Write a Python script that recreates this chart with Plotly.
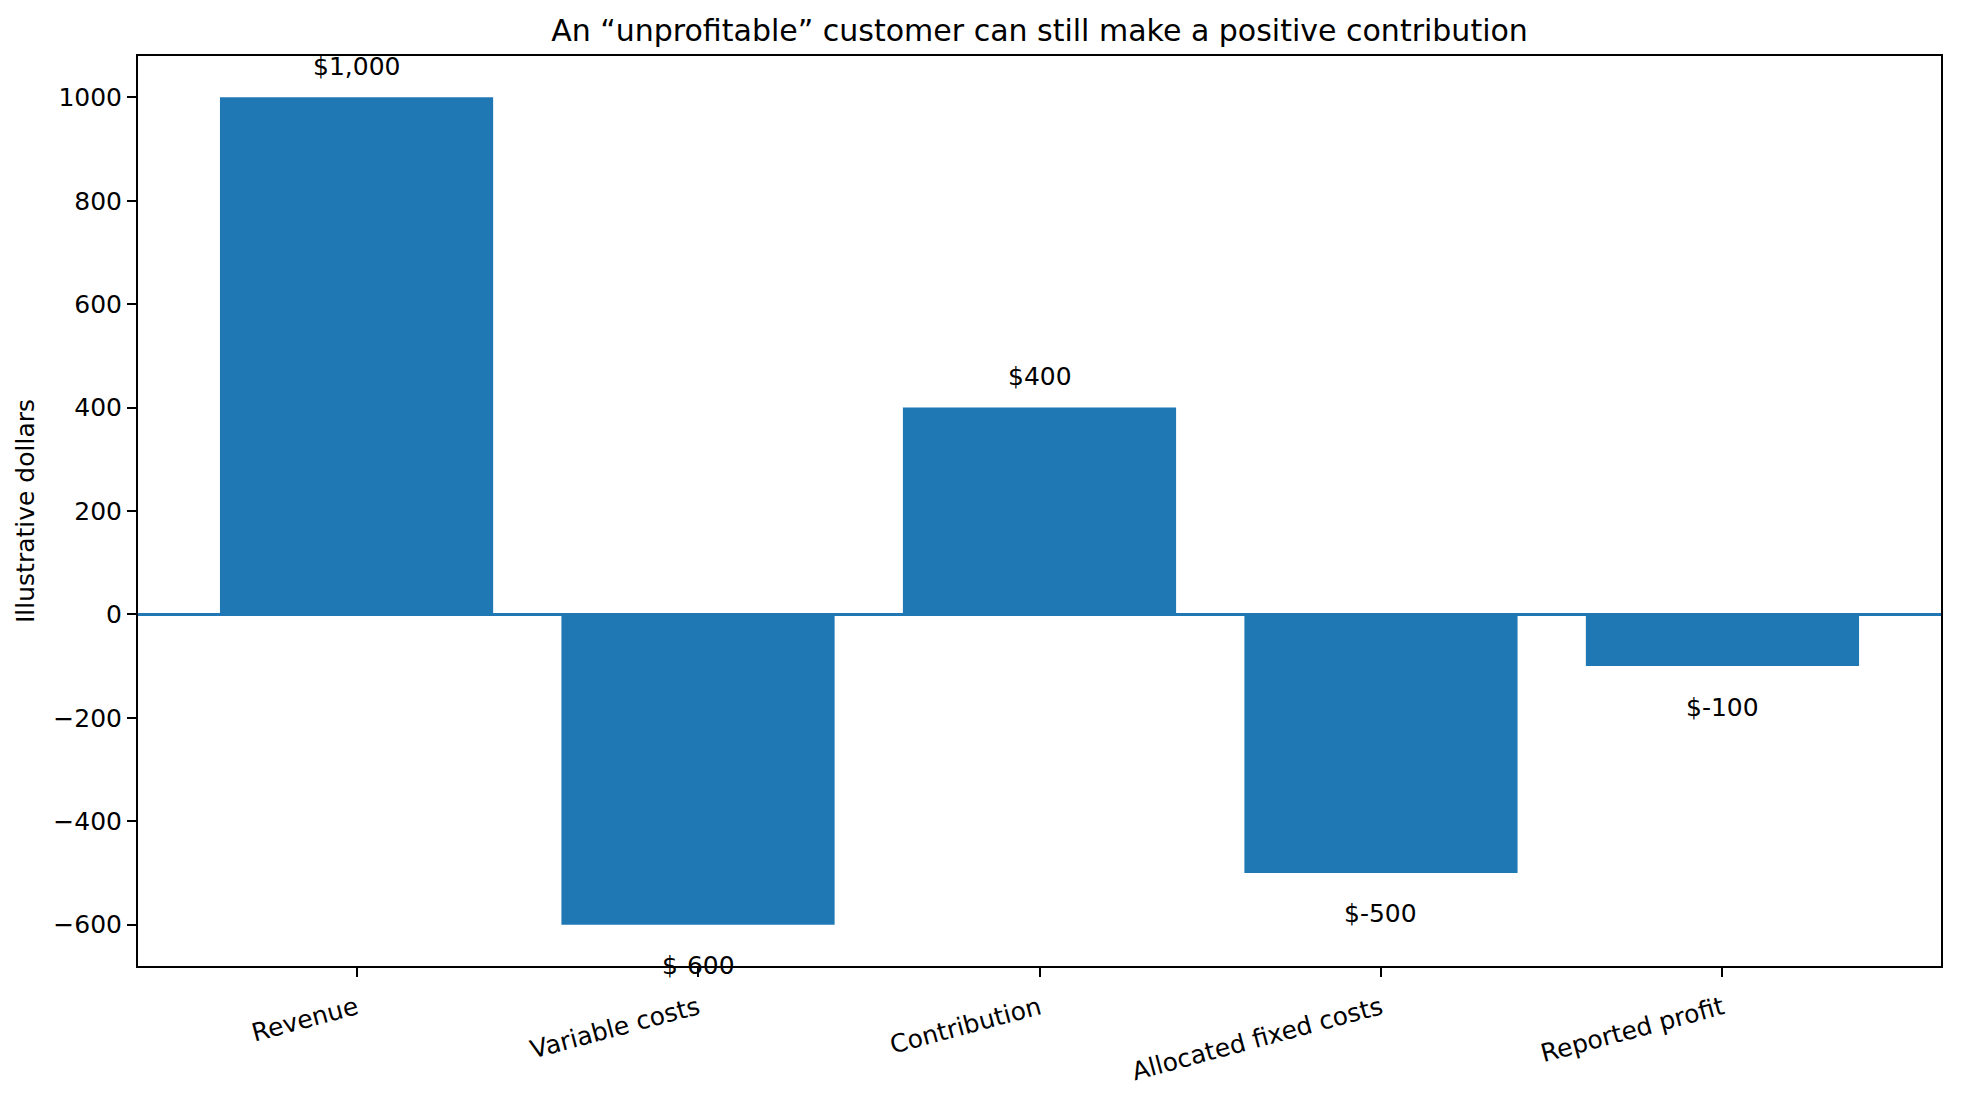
import plotly.graph_objects as go

# dados do gráfico
categorias = ["Revenue", "Variable costs", "Contribution", "Allocated fixed costs", "Reported profit"]
valores = [1000, -600, 400, -500, -100]
rotulos = ["$1,000", "$-600", "$400", "$-500", "$-100"]
y_ticks = [-600, -400, -200, 0, 200, 400, 600, 800, 1000]

azul = "#1f77b4"
fonte = "DejaVu Sans"

fig = go.Figure(go.Bar(
    x=categorias,
    y=valores,
    width=0.8,
    marker=dict(color=azul, line=dict(width=0)),
    showlegend=False
))

# rótulos acima/abaixo das barras
for cat, v, txt in zip(categorias, valores, rotulos):
    fig.add_annotation(
        x=cat, y=v, text=txt, showarrow=False,
        yanchor="middle",
        yshift=31 if v > 0 else -41,
        font=dict(family=fonte, size=25, color="black")
    )

fig.update_layout(
    width=1961,
    height=1094,
    plot_bgcolor="white",
    paper_bgcolor="white",
    margin=dict(l=130, r=28, t=48, b=136),
    font=dict(family=fonte, size=25, color="black"),
    title=dict(
        text="An “unprofitable” customer can still make a positive contribution",
        x=0.5, xref="paper", xanchor="center",
        y=1 - 22 / 1094, yref="container", yanchor="middle",
        font=dict(family=fonte, size=30, color="black")
    ),
    bargap=0.2
)

fig.update_xaxes(
    range=[-0.64, 4.64],
    showline=True, linecolor="black", linewidth=2, mirror=True,
    ticks="outside", ticklen=9, tickwidth=2, tickcolor="black",
    tickangle=-15,
    ticklabelstandoff=7,
    showgrid=False,
    tickfont=dict(family=fonte, size=25, color="black")
)

fig.update_yaxes(
    range=[-680, 1080],
    tickvals=y_ticks,
    showline=True, linecolor="black", linewidth=2, mirror=True,
    ticks="outside", ticklen=9, tickwidth=2, tickcolor="black",
    ticklabelstandoff=0,
    showgrid=False,
    zeroline=True, zerolinecolor=azul, zerolinewidth=2.5,
    title=dict(text="Illustrative dollars", standoff=12,
               font=dict(family=fonte, size=25, color="black")),
    tickfont=dict(family=fonte, size=25, color="black")
)

fig.write_html("out.html")
